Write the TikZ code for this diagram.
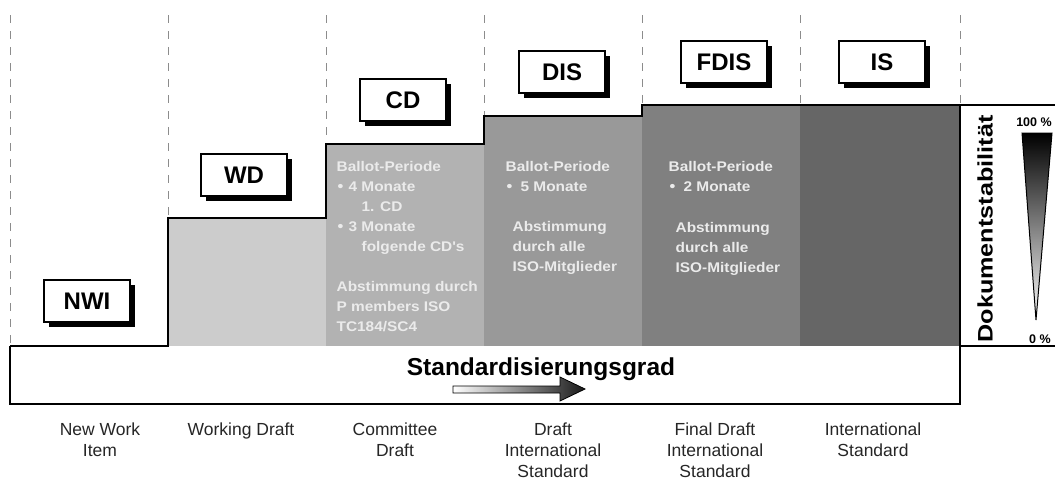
\documentclass[tikz,border=0pt]{standalone}
\usepackage{fontspec}
\setmainfont{Liberation Sans}
\newfontfamily\ballotfont[FakeStretch=1.1]{Liberation Sans}
\newfontfamily\stabfont[FakeStretch=1.2]{Liberation Sans}
\usetikzlibrary{positioning, shadows}
\newcommand{\blt}[1]{\hspace*{1pt}\makebox[#1][l]{\raisebox{0.5pt}{\fontsize{15}{15}\selectfont\textbullet}}}

\begin{document}
\begin{tikzpicture}[x=1pt, y=-1pt, line width=1.3pt,
	stage/.style={draw=black, line width=1.4pt, fill=white, minimum width=86pt, minimum height=42pt, inner sep=0pt, font=\fontsize{24}{24}\selectfont\bfseries, drop shadow={shadow xshift=5pt, shadow yshift=-5pt, fill=black, opacity=1}},
	ballot/.style={anchor=north west, align=left, inner sep=0pt, text=white!92!black, font=\ballotfont\fontsize{14}{20}\selectfont\bfseries},
	phase/.style={anchor=north, align=center, inner sep=0pt, text=black!85, font=\fontsize{17.5}{21}\selectfont},
	grid/.style={draw=black!45, line width=0.8pt, dash pattern=on 8pt off 8pt}]
		\useasboundingbox (0,0) rectangle (1055,480);
		%levels
		\fill[black!20] (168,218) rectangle (326,346);
		\fill[black!30] (326,144) rectangle (484,346);
		\fill[black!40] (484,116) rectangle (642,346);
		\fill[black!50] (642,105) rectangle (800,346);
		\fill[black!60] (800,105) rectangle (960,346);
		\foreach \x/\y in {10/346, 168/218, 326/144, 484/116, 642/105, 800/105, 960/105}
			\draw[grid] (\x,15) -- (\x,\y);
		\draw (10,346) -- (168,346) -- (168,218) -- (326,218) -- (326,144) -- (484,144) -- (484,116) -- (642,116) -- (642,105) -- (1055,105);
		\draw (10,346) -- (10,404) -- (960,404) -- (960,105);
		\draw (960,346) -- (1055,346);

		%stages
		\node[stage] (nwi) at (87,301) {NWI};
		\node[stage] (wd) at (244,175) {WD};
		\node[stage] (cd) at (403,100) {CD};
		\node[stage] (dis) at (562,72) {DIS};
		\node[stage] (fdis) at (724,62) {FDIS};
		\node[stage] (is) at (882,62) {IS};

		%ballot texts
		\node[ballot] (cdtext) at (336,161) {Ballot-Periode\\
			\blt{11pt}4 Monate\\
			\hspace*{25pt}1. CD\\
			\blt{11pt}3 Monate\\
			\hspace*{25pt}folgende CD's\\[20pt]
			Abstimmung durch\\
			P members ISO\\
			TC184/SC4};
		\node[ballot] (distext) at (505,161) {Ballot-Periode\\
			\blt{14pt}5 Monate\\[20pt]
			\hspace*{7pt}Abstimmung\\
			\hspace*{7pt}durch alle\\
			\hspace*{7pt}ISO-Mitglieder};
		\node[ballot] (fdistext) at (668,161) {Ballot-Periode\\
			\blt{14pt}2 Monate\\[21pt]
			\hspace*{7pt}Abstimmung\\
			\hspace*{7pt}durch alle\\
			\hspace*{7pt}ISO-Mitglieder};

		%degree of standardisation
		\node[anchor=base, inner sep=0pt, font=\fontsize{24.5}{24.5}\selectfont\bfseries] (grad) at (541,375) {Standardisierungsgrad};
		\draw[line width=0.8pt, left color=white, right color=black!90] (453,386) -- (560,386) -- (560,377) -- (585,389) -- (560,401) -- (560,393) -- (453,393) -- cycle;

		%stability
		\node[rotate=90, inner sep=0pt, font=\stabfont\fontsize{21}{21}\selectfont\bfseries] (stab) at (985,229) {Dokumentstabilität};
		\node[inner sep=0pt, font=\fontsize{12.5}{12.5}\selectfont\bfseries] (full) at (1034,122) {100 \%};
		\node[inner sep=0pt, font=\fontsize{12.5}{12.5}\selectfont\bfseries] (none) at (1040,339) {0 \%};
		\draw[line width=1pt, top color=black, bottom color=white] (1022,133) -- (1052,133) -- (1036,320) -- cycle;

		%phases
		\node[phase] (nwiname) at (100,422) {New Work\\Item};
		\node[phase] (wdname) at (241,422) {Working Draft};
		\node[phase] (cdname) at (395,422) {Committee\\Draft};
		\node[phase] (disname) at (553,422) {Draft\\International\\Standard};
		\node[phase] (fdisname) at (715,422) {Final Draft\\International\\Standard};
		\node[phase] (isname) at (873,422) {International\\Standard};
\end{tikzpicture}
\end{document}
